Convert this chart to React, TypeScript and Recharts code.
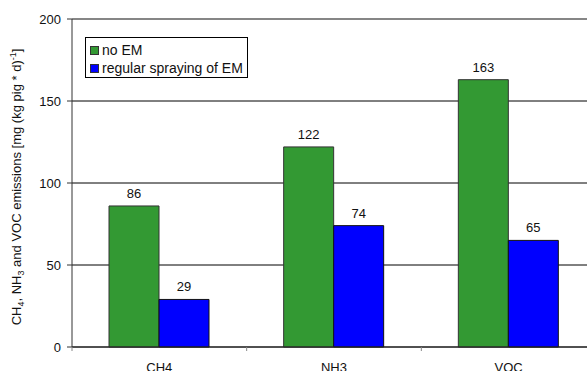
import React from "react";
import {
  BarChart,
  Bar,
  XAxis,
  YAxis,
  CartesianGrid,
  Legend,
  LabelList,
  ReferenceLine,
} from "recharts";

const categories = ["CH4", "NH3", "VOC"];
const noEM = [86, 122, 163];
const regularEM = [29, 74, 65];
const yTicks = [0, 50, 100, 150, 200];

const data = categories.map((name, i) => ({
  name,
  noEM: noEM[i],
  regularEM: regularEM[i],
}));

const FONT = "'Liberation Sans', Arial, sans-serif";
const CHART_W = 610;
const CHART_H = 380;
const MARGIN = { top: 19, right: 14, left: 0, bottom: 0 };
const Y_W = 72;
const BAND = (CHART_W - MARGIN.right - MARGIN.left - Y_W) / categories.length;

function XTick(props: any) {
  const { x, y, payload } = props;
  const edge = x - BAND / 2;
  return (
    <g>
      <line x1={edge} x2={edge} y1={y - 16} y2={y - 12} stroke="#888" />
      <text
        x={x}
        y={y}
        dy="0.71em"
        textAnchor="middle"
        fontSize={13}
        fontFamily={FONT}
        fill="#111"
      >
        {payload.value}
      </text>
    </g>
  );
}

function YLabel() {
  const cx = 21;
  const cy = 187;
  return (
    <text
      x={cx}
      y={cy}
      transform={`rotate(-90, ${cx}, ${cy})`}
      textAnchor="middle"
      fontSize={13}
      fontFamily={FONT}
      fill="#111"
    >
      <tspan>CH</tspan>
      <tspan fontSize={9} dy={3}>4</tspan>
      <tspan dy={-3}>, NH</tspan>
      <tspan fontSize={9} dy={3}>3</tspan>
      <tspan dy={-3}> and VOC emissions [mg (kg pig * d)</tspan>
      <tspan fontSize={9} dy={-5}>-1</tspan>
      <tspan dy={5}>]</tspan>
    </text>
  );
}

function LegendBox(props: any) {
  const items = props.payload || [];
  return (
    <div
      style={{
        border: "1px solid #000",
        background: "#fff",
        padding: "3px 4px 0 4px",
        fontFamily: FONT,
        fontSize: 14,
        color: "#111",
        lineHeight: "18px",
        whiteSpace: "nowrap",
      }}
    >
      {items.map((it: any) => (
        <div key={it.value} style={{ display: "flex", alignItems: "center" }}>
          <span
            style={{
              display: "inline-block",
              width: 7,
              height: 7,
              background: it.color,
              border: "1px solid #333",
              marginRight: 3,
            }}
          />
          {it.value}
        </div>
      ))}
    </div>
  );
}

export default function App() {
  return (
    <div
      style={{
        position: "absolute",
        left: 0,
        top: 0,
        width: 587,
        height: 371,
        overflow: "hidden",
        background: "#fff",
      }}
    >
      <BarChart
        width={CHART_W}
        height={CHART_H}
        data={data}
        margin={MARGIN}
        barCategoryGap={37}
        barGap={0}
      >
        <CartesianGrid vertical={false} stroke="#000" />
        <ReferenceLine y={200} stroke="#888" strokeWidth={1.5} />
        <XAxis
          dataKey="name"
          height={33}
          tickSize={0}
          tickMargin={16}
          tickLine={false}
          axisLine={{ stroke: "#222" }}
          tick={<XTick />}
          interval={0}
        />
        <YAxis
          width={Y_W}
          domain={[0, 200]}
          ticks={yTicks}
          tickSize={5}
          tickMargin={6}
          axisLine={{ stroke: "#333" }}
          tickLine={{ stroke: "#333" }}
          tick={{ fontSize: 13, fontFamily: FONT, fill: "#111" }}
          label={<YLabel />}
        />
        <Legend
          layout="vertical"
          align="center"
          verticalAlign="middle"
          content={<LegendBox />}
          wrapperStyle={{ left: 85, top: 37, width: "auto" }}
        />
        <Bar
          dataKey="noEM"
          name="no EM"
          fill="#339933"
          stroke="#333"
          isAnimationActive={false}
        >
          <LabelList
            dataKey="noEM"
            position="top"
            offset={8}
            fontSize={13}
            fontFamily={FONT}
            fill="#111"
          />
        </Bar>
        <Bar
          dataKey="regularEM"
          name="regular spraying of EM"
          fill="#0000ff"
          stroke="#111"
          isAnimationActive={false}
        >
          <LabelList
            dataKey="regularEM"
            position="top"
            offset={8}
            fontSize={13}
            fontFamily={FONT}
            fill="#111"
          />
        </Bar>
      </BarChart>
    </div>
  );
}
